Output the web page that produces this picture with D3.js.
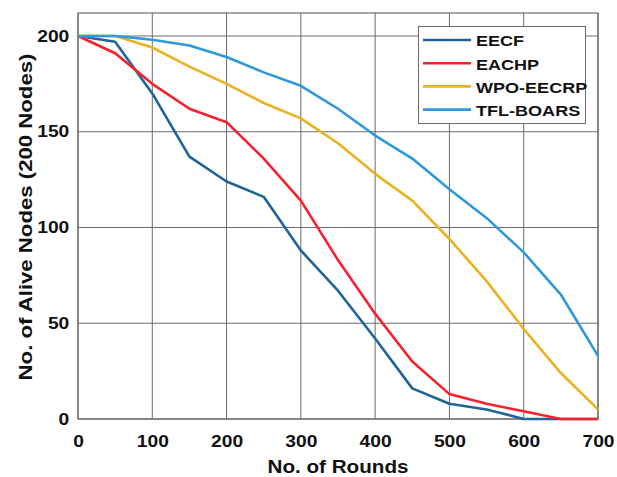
<!DOCTYPE html>
<html><head><meta charset="utf-8">
<script src="https://cdn.jsdelivr.net/npm/d3@7"></script>
<style>body{margin:0;background:#fff}svg{display:block}text{font-family:"Liberation Sans",Arial,sans-serif;font-weight:bold;fill:#111}</style>
</head><body><svg id="c" width="617" height="477"></svg>
<script>
const rounds = [0,50,100,150,200,250,300,350,400,450,500,550,600,650,700];
const eecf   = [200,197,170,137,124,116,88,67,42,16,8,5,0,0,0];
const eachp  = [200,191,175,162,155,136,114,83,55,30,13,8,4,0,0];
const wpo    = [200,200,194,184,175,165,157,144,128,114,94,72,47,24,5];
const tfl    = [200,200,198,195,189,181,174,162,148,136,120,105,87,65,33];
const seriesNames = ["EECF","EACHP","WPO-EECRP","TFL-BOARS"];
const seriesColors = ["#1f6496","#f5222d","#edb120","#2e98dc"];
const xTicks = [0,100,200,300,400,500,600,700];
const yTicks = [0,50,100,150,200];

const series = [eecf, eachp, wpo, tfl];
const SX = 1.18; // horizontal stretch of the original's lettering
const svg = d3.select("#c");
const L=78, R=598, T=13, B=419;
const x = d3.scaleLinear().domain([0,700]).range([L,R]);
const y = d3.scaleLinear().domain([0,212]).range([B,T]);

// grid
const g = svg.append("g");
g.selectAll(".vg").data(xTicks).enter().append("line")
  .attr("x1",d=>x(d)).attr("x2",d=>x(d)).attr("y1",T).attr("y2",B)
  .attr("stroke","#6a6a6a").attr("stroke-width",1);
g.selectAll(".hg").data(yTicks).enter().append("line")
  .attr("x1",L).attr("x2",R).attr("y1",d=>y(d)).attr("y2",d=>y(d))
  .attr("stroke","#6a6a6a").attr("stroke-width",1);

// axes
const xa = svg.append("g").attr("transform",`translate(0,${B})`)
  .call(d3.axisBottom(x).tickValues(xTicks).tickSize(0).tickPadding(16));
const ya = svg.append("g").attr("transform",`translate(${L},0)`)
  .call(d3.axisLeft(y).tickValues(yTicks).tickSize(0).tickPadding(9));
[xa,ya].forEach(a=>{a.select(".domain").remove();a.selectAll("text").style("font-size","16.3px").style("font-weight","bold").attr("fill","#111");});
xa.selectAll("text").attr("transform",`scale(${SX},1)`);
ya.selectAll("text").attr("x",0).attr("transform",`translate(-8.7,0) scale(${SX},1)`);

// frame
svg.append("rect").attr("x",L).attr("y",T).attr("width",R-L).attr("height",B-T)
  .attr("fill","none").attr("stroke","#6a6a6a").attr("stroke-width",1.2);

// lines
const line = d3.line().x((d,i)=>x(rounds[i])).y(d=>y(d));
series.forEach((s,k)=>{
  svg.append("path").datum(s).attr("d",line).attr("fill","none")
    .attr("stroke",seriesColors[k]).attr("stroke-width",2.6).attr("stroke-linejoin","round");
});

// titles
svg.append("text").attr("transform",`translate(${(L+R)/2},473) scale(${SX},1)`).attr("text-anchor","middle")
  .style("font-size","17.5px").text("No. of Rounds");
svg.append("text").attr("transform",`translate(32,217) rotate(-90) scale(${SX},1)`).attr("text-anchor","middle")
  .style("font-size","18.8px").text("No. of Alive Nodes (200 Nodes)");

// legend
const lg = svg.append("g");
lg.append("rect").attr("x",418.5).attr("y",26.5).attr("width",167).attr("height",97)
  .attr("fill","#fff").attr("stroke","#6a6a6a").attr("stroke-width",1);
seriesNames.forEach((n,i)=>{
  const yy = 40 + i*23.2;
  lg.append("line").attr("x1",423).attr("x2",471).attr("y1",yy).attr("y2",yy)
    .attr("stroke",seriesColors[i]).attr("stroke-width",2.6);
  lg.append("text").attr("transform",`translate(476,${yy+6.3}) scale(${SX},1)`).style("font-size","15.3px").text(n);
});
</script></body></html>
